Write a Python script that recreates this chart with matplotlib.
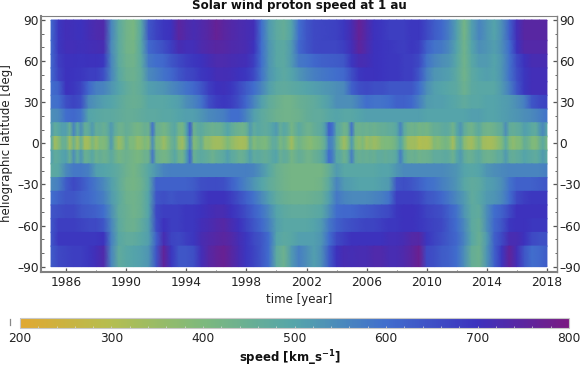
import matplotlib
matplotlib.use('Agg')
import matplotlib.pyplot as plt
import numpy as np
from matplotlib.colors import LinearSegmentedColormap, Normalize
from matplotlib.cm import ScalarMappable
from matplotlib.lines import Line2D

# time grids: half-yearly away from the equator, quarterly close to it
t_half = np.arange(1985, 2018.25, 0.5)
t_quarter = np.arange(1985, 2018.125, 0.25)

# latitude band edges, north to south
band_edges = [90, 75, 65, 55, 45, 35, 25, 15, 5, -5, -15, -25, -35, -45, -55, -65, -75, -90]

# speed [km/s], one line per five years
lat_80 = [610, 690, 710, 705, 700, 715, 725, 730, 560, 480,
          430, 410, 490, 640, 670, 690, 700, 750, 730, 720,
          730, 745, 765, 750, 735, 725, 720, 710, 600, 520,
          480, 460, 500, 600, 640, 660, 665, 670, 675, 690,
          720, 765, 730, 700, 690, 680, 680, 680, 690, 690,
          660, 630, 610, 570, 510, 420, 510, 560, 530, 500,
          540, 620, 710, 745, 745, 745, 745]
lat_70 = [610, 690, 710, 710, 705, 710, 715, 720, 550, 480,
          430, 420, 490, 610, 630, 650, 680, 720, 710, 710,
          725, 735, 745, 740, 730, 725, 720, 700, 600, 530,
          490, 480, 520, 610, 640, 660, 665, 665, 665, 680,
          710, 755, 725, 700, 695, 690, 685, 680, 690, 680,
          620, 590, 580, 550, 500, 430, 500, 540, 530, 510,
          540, 600, 700, 735, 735, 735, 735]
lat_60 = [610, 680, 700, 700, 695, 700, 700, 690, 560, 480,
          440, 430, 480, 580, 600, 610, 640, 660, 680, 690,
          700, 715, 725, 725, 720, 715, 710, 680, 600, 530,
          490, 480, 520, 580, 590, 610, 620, 625, 630, 640,
          690, 720, 715, 700, 695, 690, 690, 680, 680, 660,
          590, 560, 540, 530, 490, 430, 490, 520, 520, 500,
          530, 590, 660, 700, 720, 720, 720]
lat_50 = [610, 670, 700, 695, 690, 680, 680, 650, 560, 490,
          450, 440, 470, 550, 570, 590, 610, 640, 660, 670,
          690, 700, 715, 715, 710, 700, 690, 660, 590, 530,
          500, 480, 500, 530, 550, 570, 580, 590, 600, 610,
          650, 690, 700, 700, 695, 690, 690, 680, 680, 640,
          570, 530, 520, 510, 480, 430, 480, 500, 510, 500,
          530, 590, 650, 690, 710, 710, 710]
lat_40 = [600, 620, 700, 690, 670, 610, 570, 560, 530, 500,
          470, 450, 470, 510, 520, 530, 550, 570, 590, 610,
          640, 680, 700, 705, 690, 660, 630, 600, 560, 510,
          480, 470, 480, 490, 500, 510, 520, 530, 540, 550,
          620, 650, 660, 650, 650, 640, 640, 640, 640, 600,
          540, 510, 500, 490, 480, 440, 480, 490, 490, 490,
          520, 570, 640, 690, 710, 710, 710]
lat_30 = [590, 600, 650, 670, 650, 550, 530, 510, 500, 480,
          460, 450, 460, 490, 490, 490, 500, 510, 540, 560,
          590, 650, 680, 690, 680, 650, 610, 560, 510, 470,
          450, 430, 430, 450, 460, 470, 490, 510, 540, 540,
          540, 570, 600, 590, 590, 600, 620, 620, 610, 570,
          520, 510, 510, 500, 490, 470, 490, 490, 500, 500,
          510, 520, 540, 570, 640, 660, 670]
lat_20 = [540, 550, 600, 610, 590, 500, 490, 480, 480, 470,
          460, 460, 470, 480, 480, 490, 490, 500, 510, 510,
          530, 550, 560, 570, 600, 600, 560, 510, 480, 460,
          440, 430, 430, 440, 460, 470, 470, 490, 500, 490,
          490, 500, 510, 510, 510, 510, 510, 510, 510, 510,
          500, 500, 500, 500, 500, 500, 510, 510, 500, 500,
          510, 520, 530, 540, 550, 570, 590]

lat_m20 = [480, 490, 550, 580, 580, 570, 510, 500, 490, 470,
           440, 420, 450, 490, 530, 560, 570, 570, 570, 570,
           570, 570, 570, 570, 570, 570, 570, 560, 530, 490,
           450, 430, 420, 420, 420, 420, 420, 460, 520, 490,
           490, 490, 490, 490, 500, 500, 530, 550, 550, 550,
           550, 550, 550, 540, 530, 500, 490, 500, 530, 540,
           550, 560, 560, 560, 560, 560, 570]
lat_m30 = [550, 570, 630, 660, 640, 610, 580, 550, 510, 470,
           430, 420, 440, 490, 620, 620, 620, 620, 620, 630,
           650, 655, 655, 650, 620, 590, 560, 530, 500, 470,
           450, 430, 420, 420, 420, 420, 430, 480, 560, 520,
           510, 500, 500, 500, 510, 520, 640, 650, 640, 620,
           600, 590, 570, 550, 530, 490, 470, 480, 510, 520,
           540, 590, 620, 620, 620, 630, 640]
lat_m40 = [600, 620, 640, 640, 620, 610, 590, 570, 520, 480,
           440, 430, 450, 500, 640, 650, 640, 650, 650, 650,
           680, 700, 700, 700, 680, 650, 620, 590, 550, 510,
           470, 450, 440, 440, 440, 450, 460, 510, 580, 560,
           550, 550, 550, 560, 570, 590, 680, 680, 680, 670,
           640, 630, 610, 580, 550, 520, 470, 490, 520, 530,
           550, 600, 660, 680, 690, 690, 690]
lat_m50 = [640, 650, 660, 660, 640, 630, 620, 600, 540, 470,
           450, 430, 450, 500, 660, 680, 680, 680, 690, 690,
           700, 710, 720, 720, 700, 680, 650, 620, 590, 550,
           500, 480, 470, 470, 470, 480, 490, 540, 600, 610,
           610, 620, 630, 640, 650, 660, 690, 700, 700, 690,
           670, 660, 650, 620, 590, 530, 480, 470, 540, 600,
           620, 660, 700, 700, 700, 700, 700]
lat_m60 = [640, 680, 680, 680, 670, 660, 660, 640, 560, 480,
           450, 440, 470, 510, 650, 700, 680, 680, 690, 690,
           710, 720, 730, 740, 720, 700, 670, 640, 610, 570,
           510, 490, 490, 490, 490, 500, 520, 580, 620, 640,
           650, 660, 670, 670, 680, 690, 690, 700, 700, 690,
           680, 670, 660, 630, 600, 550, 480, 460, 540, 610,
           640, 690, 700, 700, 690, 690, 690]
lat_m70 = [640, 690, 690, 690, 690, 690, 690, 700, 570, 490,
           470, 470, 490, 510, 620, 720, 670, 660, 680, 690,
           720, 730, 740, 750, 735, 715, 690, 660, 640, 600,
           500, 480, 490, 510, 510, 510, 530, 600, 660, 680,
           700, 700, 700, 700, 700, 710, 710, 720, 735, 740,
           690, 670, 650, 630, 610, 560, 490, 450, 520, 620,
           660, 720, 720, 700, 660, 650, 650]
lat_m80 = [630, 660, 670, 680, 680, 690, 710, 730, 560, 470,
           490, 500, 510, 530, 640, 760, 690, 640, 640, 650,
           710, 740, 760, 770, 745, 720, 690, 670, 640, 600,
           480, 440, 520, 570, 540, 510, 540, 630, 700, 720,
           715, 720, 720, 730, 730, 720, 720, 730, 750, 775,
           660, 650, 630, 620, 600, 540, 460, 440, 530, 620,
           690, 760, 710, 640, 600, 610, 630]

# the three equatorial bands change much faster, one line per year
lat_10 = [520, 470, 490, 510, 510, 450, 560, 480, 540, 460, 470, 520,
          460, 470, 450, 470, 520, 470, 440, 440, 460, 450, 430, 420,
          430, 450, 440, 590, 450, 440, 420, 440, 470, 490, 430, 420,
          500, 620, 440, 470, 480, 460, 450, 440, 450, 450, 470, 500,
          470, 450, 440, 430, 450, 520, 470, 490, 480, 470, 480, 500,
          520, 460, 490, 470, 420, 450, 480, 460, 440, 440, 460, 470,
          480, 520, 620, 590, 490, 470, 430, 450, 590, 450, 440, 450,
          440, 450, 440, 450, 460, 460, 470, 470, 490, 560, 480, 440,
          430, 440, 420, 430, 420, 440, 460, 460, 470, 480, 470, 430,
          490, 530, 470, 440, 430, 460, 480, 440, 430, 430, 440, 460,
          470, 540, 470, 460, 470, 480, 510, 500, 480, 470, 520, 550,
          490]
lat_0 = [490, 340, 380, 450, 450, 335, 440, 345, 450, 330, 335, 410,
         350, 400, 390, 420, 520, 420, 350, 380, 450, 400, 400, 360,
         370, 400, 380, 540, 400, 390, 345, 390, 440, 470, 370, 340,
         440, 570, 390, 420, 460, 370, 370, 345, 335, 340, 360, 400,
         370, 345, 330, 325, 340, 460, 390, 420, 410, 400, 430, 470,
         470, 410, 440, 400, 335, 400, 430, 410, 390, 380, 400, 410,
         430, 470, 570, 550, 460, 400, 340, 390, 520, 400, 370, 400,
         345, 370, 345, 360, 390, 400, 400, 410, 440, 500, 420, 345,
         335, 340, 305, 315, 310, 330, 390, 380, 400, 420, 400, 330,
         430, 480, 380, 345, 335, 380, 420, 340, 330, 325, 340, 370,
         400, 480, 400, 370, 390, 400, 460, 440, 400, 390, 440, 480,
         410]
lat_m10 = [510, 470, 480, 500, 510, 450, 540, 470, 530, 450, 460, 490,
           440, 460, 440, 450, 480, 450, 420, 430, 440, 430, 420, 410,
           420, 440, 440, 580, 450, 430, 420, 430, 460, 490, 440, 430,
           510, 610, 450, 470, 480, 470, 460, 440, 460, 470, 480, 510,
           480, 470, 450, 450, 470, 510, 470, 480, 470, 460, 470, 490,
           500, 450, 470, 460, 420, 440, 460, 450, 430, 430, 450, 460,
           480, 520, 600, 570, 490, 480, 440, 470, 570, 470, 450, 460,
           450, 460, 450, 470, 470, 460, 470, 470, 490, 570, 490, 450,
           440, 450, 430, 440, 440, 450, 470, 470, 470, 480, 470, 440,
           490, 520, 470, 450, 450, 470, 480, 450, 440, 440, 450, 470,
           470, 520, 470, 460, 470, 480, 500, 490, 480, 470, 490, 520,
           480]

bands = [lat_80, lat_70, lat_60, lat_50, lat_40, lat_30, lat_20,
         lat_10, lat_0, lat_m10,
         lat_m20, lat_m30, lat_m40, lat_m50, lat_m60, lat_m70, lat_m80]

colors = ['#e0a832', '#b4be50', '#7db97d', '#55a5aa', '#416ecd', '#3c32be', '#7a1a82']
cmap = LinearSegmentedColormap.from_list('speed', colors)
norm = Normalize(200, 800)

W, H = 581, 366
fig = plt.figure(figsize=(W / 100, H / 100), dpi=100)
text_color = '#222222'
frame_color = '#808080'
plt.rcParams['font.family'] = 'DejaVu Sans'

ax = fig.add_axes([41 / W, 1 - 272 / H, 516 / W, 256.5 / H])
for i, values in enumerate(bands):
    t = t_quarter if len(values) == len(t_quarter) else t_half
    z = np.array([values, values], dtype=float)
    ax.pcolormesh(t, [band_edges[i], band_edges[i + 1]], z, shading='gouraud',
                  cmap=cmap, norm=norm, rasterized=True)

ax.set_xlim(1984.33, 2018.67)
ax.set_ylim(-93.9, 93.3)

ax.set_xticks(np.arange(1986, 2019, 4))
ax.set_xticks(np.arange(1988, 2019, 4), minor=True)
ax.set_yticks(np.arange(-90, 91, 30))
ax.set_yticks(np.arange(-90, 91, 10), minor=True)
ax.set_yticklabels(['\u201390', '\u201360', '\u201330', '0', '30', '60', '90'])
ax.tick_params(which='major', direction='in', length=3.2, width=0.9, color='#555555',
               labelsize=8.8, labelcolor=text_color, left=True, right=True,
               labelleft=True, labelright=True, top=False)
ax.tick_params(which='minor', direction='in', length=1.8, width=0.7, color='#666666',
               left=True, right=True, top=False)
ax.tick_params(axis='y', which='major', pad=1.5)
ax.tick_params(axis='x', which='major', pad=3)

for side, w in (('left', 1.5), ('bottom', 1.5), ('right', 1.0), ('top', 0.8)):
    ax.spines[side].set_color(frame_color)
    ax.spines[side].set_linewidth(w)

fig.text(299 / W, 1 - 5.5 / H, 'Solar wind proton speed at 1 au', fontsize=8.6, fontweight='bold',
         ha='center', va='center', color='#111111')
fig.text(7 / W, 1 - 143 / H, 'heliographic latitude [deg]', fontsize=8.5, rotation=90,
         ha='center', va='center', color=text_color)
fig.text(299 / W, 1 - 300 / H, 'time [year]', fontsize=8.5, ha='center', va='center', color=text_color)

cax = fig.add_axes([20 / W, 1 - 327.7 / H, 549 / W, 9.7 / H])
cbar = fig.colorbar(ScalarMappable(norm=norm, cmap=cmap), cax=cax, orientation='horizontal')
cbar.set_ticks(np.arange(200, 801, 100))
cbar.ax.set_xticks(np.arange(200, 801, 20), minor=True)
cbar.ax.tick_params(which='major', direction='in', length=1.5, width=0.6, color='#cccccc',
                    labelsize=8.8, labelcolor=text_color, pad=3)
cbar.ax.tick_params(which='minor', direction='in', length=1.2, width=0.5, color='#dddddd')
cbar.outline.set_edgecolor('#c8c8c8')
cbar.outline.set_linewidth(0.8)

fig.text(290 / W, 1 - 358 / H, 'speed [km_s$^{\\mathbf{-1}}$]', fontsize=8.5, fontweight='bold',
         ha='center', va='center', color='#111111')

# stray tick left of the colour bar in the original
fig.add_artist(Line2D([9.5 / W, 9.5 / W], [1 - 318.5 / H, 1 - 325 / H], color='#888888', lw=0.9))

fig.savefig('out.png', dpi=100)
